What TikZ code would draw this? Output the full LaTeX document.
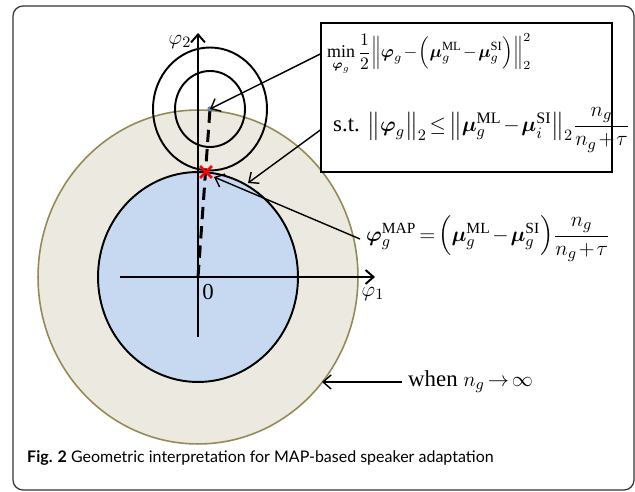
\documentclass[tikz,border=0pt]{standalone}
\usepackage{amsmath, amssymb}
\usepackage{fontspec}
\setmainfont{Liberation Serif}
\newfontfamily\capfont{Lato}
\usepackage{tikz}
\usetikzlibrary{arrows.meta, positioning, shapes.misc}

\definecolor{ringfill}{RGB}{236,234,224}
\definecolor{ringline}{RGB}{148,138,84}
\definecolor{diskfill}{RGB}{198,217,241}
\newcommand{\bphi}{\boldsymbol{\varphi}}
\newcommand{\bmu}{\boldsymbol{\mu}}
\medmuskip=1.5mu\relax
\thickmuskip=2.5mu\relax

\tikzset{
  arr/.style={-{Straight Barb[length=1.6mm,width=2.8mm]}, line width=0.8pt},
  ax/.style={line width=1.1pt, -{Straight Barb[length=1.6mm,width=2.8mm]}},
  curve/.style={line width=1.1pt},
  eq/.style={font=\fontsize{#1}{15}\selectfont},
}

\begin{document}
\begin{tikzpicture}[x=0.02cm, y=-0.02cm, font=\fontsize{13}{16}\selectfont]
    \useasboundingbox (0,0) rectangle (635,492);
    % 外框
    \draw[rounded corners=0.2cm, line width=0.7pt, black!80] (13,6) rectangle (634,490);

    % 区域
    \filldraw[fill=ringfill, draw=ringline, line width=0.9pt] (198,277) ellipse [x radius=3.2cm, y radius=3.34cm];
    \filldraw[fill=diskfill, draw=black, curve] (198,277) ellipse [x radius=2cm, y radius=2.1cm];

    % 等高线
    \coordinate (ctr) at (210,109);
    \draw[curve] (ctr) ellipse [x radius=1.14cm, y radius=1.23cm];
    \draw[curve] (ctr) ellipse [x radius=0.7cm, y radius=0.76cm];

    % 坐标轴
    \coordinate (O) at (198,277);
    \draw[ax] (120,277) -- (375,277);
    \draw[ax] (198,337) -- (198,33);
    \node (phi1) at (373,294) {$\varphi_1$};
    \node (phi2) at (180,42) {$\varphi_2$};
    \node (zero) at (208,292) {0};

    % 解的路径
    \draw[line width=1.7pt, dash pattern=on 7pt off 4pt] (O) -- (ctr);
    \fill[cyan!60!blue!70, draw=black!60, line width=0.3pt] (ctr) circle (0.045cm);
    \node[draw=red, cross out, line width=1.6pt, minimum size=0.18cm, inner sep=0pt] (xmark) at (206,172) {};

    % 优化问题
    \node[draw, line width=0.8pt, minimum width=5.82cm, minimum height=2.98cm] (formula) at (466.5,97.5) {};
    \node[eq=10.2, anchor=west] (obj) at (321,54)
        {$\displaystyle\min_{\bphi_g}\frac{1}{2}\Big\|\bphi_g-\Big(\bmu_g^{\mathrm{ML}}-\bmu_g^{\mathrm{SI}}\Big)\Big\|_2^2$};
    \node[eq=13, anchor=west] (cons) at (327,130)
        {s.t. $\big\|\bphi_g\big\|_2\le\big\|\bmu_g^{\mathrm{ML}}-\bmu_i^{\mathrm{SI}}\big\|_2\dfrac{n_g}{n_g+\tau}$};
    \coordinate (bnd) at (248,183);
    \draw[arr] (formula.west |- obj) -- (ctr);
    \draw[arr] (formula.west |- cons) -- (bnd);

    % MAP 解
    \node[eq=12.6, anchor=west] (map) at (360,239)
        {$\bphi_g^{\mathrm{MAP}}=\Big(\bmu_g^{\mathrm{ML}}-\bmu_g^{\mathrm{SI}}\Big)\dfrac{n_g}{n_g+\tau}$};
    \coordinate (mapend) at (214,177);
    \draw[arr] (map.west) -- (mapend);

    % n_g 趋于无穷
    \coordinate (rim) at (322,382);
    \node[anchor=west] (when) at (402,382) {when $n_g\rightarrow\infty$};
    \draw[arr] (when.west) -- (rim);

    % 图注
    \node[anchor=west, font=\capfont\fontsize{9.1}{11}\selectfont] (cap) at (21,458)
        {\textbf{Fig. 2} Geometric interpretation for MAP-based speaker adaptation};
\end{tikzpicture}
\end{document}
